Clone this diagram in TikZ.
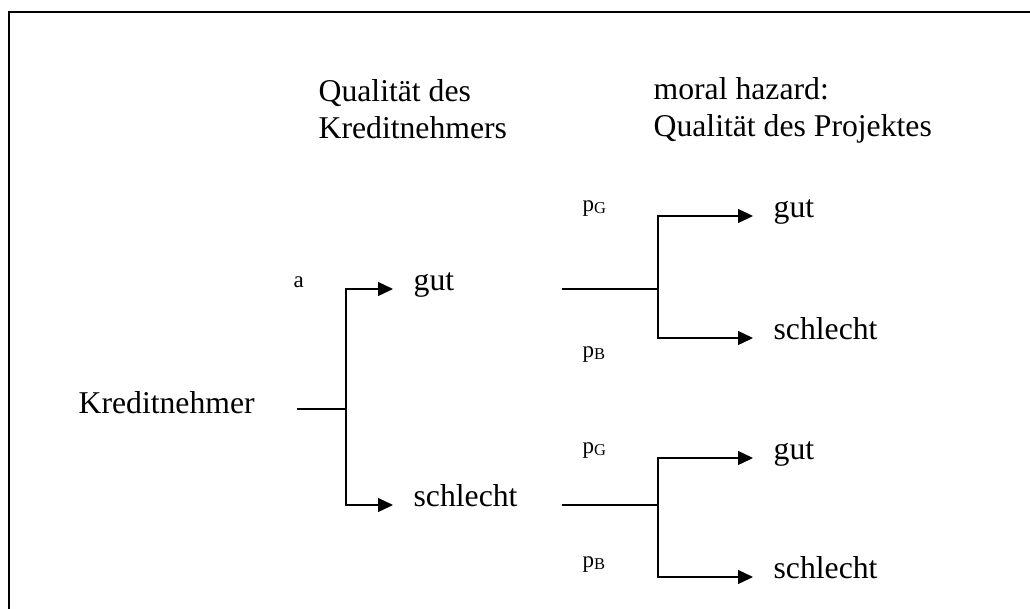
\documentclass[tikz,border=0pt]{standalone}
\usepackage{fontspec}
\setmainfont{Liberation Serif}
\usetikzlibrary{arrows.meta,positioning}
\newcommand{\grosstext}{\fontsize{31.7}{37}\selectfont}
\newcommand{\kleintext}{\fontsize{23}{27}\selectfont}
\newcommand{\idx}[1]{{\fontsize{16.5}{18}\selectfont\raisebox{-2pt}{#1}}}

\begin{document}
\begin{tikzpicture}[x=1pt,y=-1pt,line width=1.3pt,
	txt/.style={font=\grosstext,inner sep=0pt,text height=0.58em,text depth=0.22em,anchor=west},
	kopf/.style={font=\grosstext,inner sep=0pt,align=left,anchor=north west},
	lbl/.style={font=\kleintext,inner sep=0pt,anchor=base west},
	pfeil/.style={-{Triangle[length=15pt,width=14pt]},shorten >=20pt}]
	\useasboundingbox (0,0) rectangle (1030,608);
	% Rahmen
	\draw[line width=2.7pt] (9,612) -- (9,12);
	\draw[line width=2pt] (8,12) -- (1034,12);
	
	% Ueberschriften
	\node[kopf] (q1) at (318,79) {Qualität des\\Kreditnehmers};
	\node[kopf] (q2) at (653,77) {moral hazard:\\Qualität des Projektes};
	
	% erste Stufe
	\node[txt,anchor=base west] (kn) at (78,413) {Kreditnehmer};
	\coordinate (e0) at (297,409);
	\coordinate (f0) at (346,409);
	\node[txt] (g0) at (413,289) {gut};
	\node[txt] (b0) at (413,505) {schlecht};
	\node[lbl] (a) at (293,287) {a};
	
	\draw (e0) -- (f0);
	\draw[pfeil] (f0) |- (g0);
	\draw[pfeil] (f0) |- (b0);
	
	% zweite Stufe, oben
	\coordinate (e1) at (562,289);
	\coordinate (f1) at (658,289);
	\node[txt] (g1) at (773,216) {gut};
	\node[txt] (b1) at (773,338) {schlecht};
	\node[lbl] (pg1) at (582,211) {p\idx{G}};
	\node[lbl] (pb1) at (582,357) {p\idx{B}};
	
	\draw (e1) -- (f1);
	\draw[pfeil] (f1) |- (g1);
	\draw[pfeil] (f1) |- (b1);
	
	% zweite Stufe, unten
	\coordinate (e2) at (562,505);
	\coordinate (f2) at (658,505);
	\node[txt] (g2) at (773,458) {gut};
	\node[txt] (b2) at (773,577) {schlecht};
	\node[lbl] (pg2) at (582,453) {p\idx{G}};
	\node[lbl] (pb2) at (582,567) {p\idx{B}};
	
	\draw (e2) -- (f2);
	\draw[pfeil] (f2) |- (g2);
	\draw[pfeil] (f2) |- (b2);
\end{tikzpicture}
\end{document}
